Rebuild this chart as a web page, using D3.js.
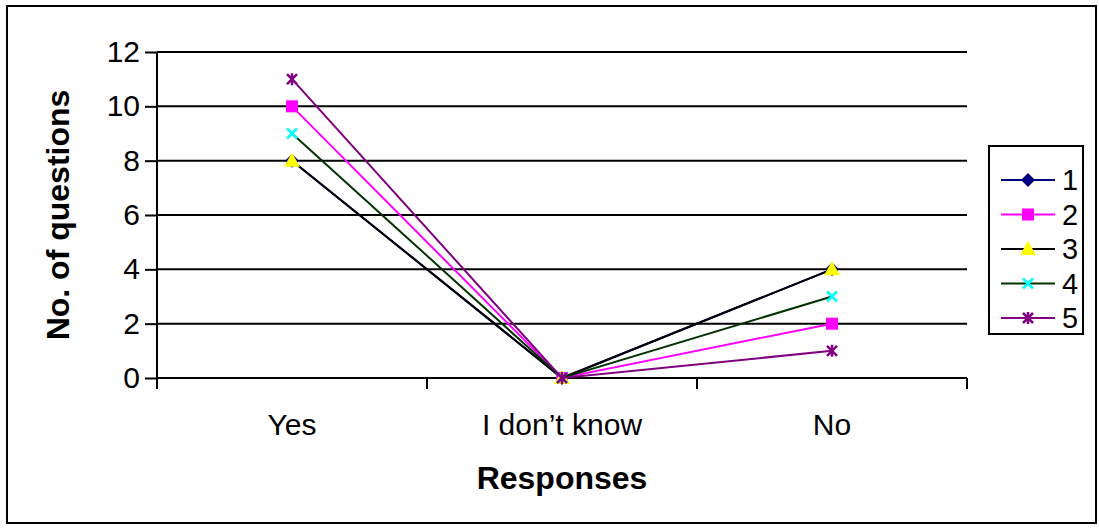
<!DOCTYPE html>
<html><head><meta charset="utf-8">
<script src="https://cdn.jsdelivr.net/npm/d3@7"></script>
<style>body{margin:0;background:#fff}svg{display:block}text{font-family:"Liberation Sans",Arial,sans-serif}</style>
</head><body><svg id="c" width="1099" height="528"></svg>
<script>
const categories = ["Yes", "I don\u2019t know", "No"];
const seriesNames = ["1", "2", "3", "4", "5"];
const s1 = [8, 0, 4];
const s2 = [10, 0, 2];
const s3 = [8, 0, 4];
const s4 = [9, 0, 3];
const s5 = [11, 0, 1];
const yTicks = [0, 2, 4, 6, 8, 10, 12];
const xTitle = "Responses";
const yTitle = "No. of questions";

const seriesValues = [s1, s2, s3, s4, s5];
const lineColors = ["#000080", "#FF00FF", "#000000", "#003300", "#800080"];
const markerColors = ["#000080", "#FF00FF", "#FFFF00", "#00FFFF", "#800080"];
const markerTypes = ["diamond", "square", "triangle", "x", "star"];

const svg = d3.select("#c");
svg.append("rect").attr("x", 7).attr("y", 6).attr("width", 1089).attr("height", 517)
  .attr("fill", "#fff").attr("stroke", "#000").attr("stroke-width", 2);

const L = 157, R = 967, T = 52, B = 378;
const x = d3.scaleBand().domain(categories).range([L, R]);
const y = d3.scaleLinear().domain([0, 12]).range([B, T]);

// gridlines
svg.append("g").selectAll("line").data(yTicks.filter(d => d > 0)).join("line")
  .attr("x1", L).attr("x2", R).attr("y1", d => y(d)).attr("y2", d => y(d))
  .attr("stroke", "#000").attr("stroke-width", 2);

// y axis
const ya = svg.append("g").attr("transform", `translate(${L},0)`)
  .call(d3.axisLeft(y).tickValues(yTicks).tickSize(12).tickPadding(5));
ya.select(".domain").attr("stroke-width", 2).attr("d", `M0,${T}V${B}`);
ya.selectAll(".tick line").attr("stroke-width", 2);
ya.selectAll(".tick text").attr("font-size", 30).attr("fill", "#000").attr("font-family", "Liberation Sans, Arial, sans-serif");

// x axis
const xa = svg.append("g").attr("transform", `translate(0,${B})`)
  .call(d3.axisBottom(x).tickSize(0).tickPadding(36));
xa.select(".domain").attr("stroke-width", 2).attr("d", `M${L},0H${R}`);
xa.selectAll(".tick text").attr("font-size", 30).attr("fill", "#000").attr("font-family", "Liberation Sans, Arial, sans-serif");
// category separator ticks
const sepPos = [...categories.map(c => x(c)), x(categories[categories.length - 1]) + x.bandwidth()];
svg.append("g").selectAll("line").data(sepPos).join("line")
  .attr("x1", d => d).attr("x2", d => d).attr("y1", B).attr("y2", B + 11)
  .attr("stroke", "#000").attr("stroke-width", 2);

// titles
svg.append("text").attr("x", 562).attr("y", 489).attr("text-anchor", "middle")
  .attr("font-size", 32).attr("font-weight", "bold").text(xTitle);
svg.append("text").attr("transform", `translate(69,${(T + B) / 2}) rotate(-90)`).attr("text-anchor", "middle")
  .attr("font-size", 32).attr("font-weight", "bold").text(yTitle);

function drawMarker(g, type, cx, cy, color) {
  if (type === "diamond") {
    g.append("path").attr("d", `M${cx},${cy - 7}L${cx + 7},${cy}L${cx},${cy + 7}L${cx - 7},${cy}Z`).attr("fill", color);
  } else if (type === "square") {
    g.append("rect").attr("x", cx - 6).attr("y", cy - 6).attr("width", 12).attr("height", 12).attr("fill", color);
  } else if (type === "triangle") {
    g.append("path").attr("d", `M${cx},${cy - 8}L${cx + 8},${cy + 6}L${cx - 8},${cy + 6}Z`).attr("fill", color);
  } else if (type === "x") {
    g.append("path").attr("d", `M${cx - 5},${cy - 5}L${cx + 5},${cy + 5}M${cx - 5},${cy + 5}L${cx + 5},${cy - 5}`)
      .attr("stroke", color).attr("stroke-width", 2.5);
  } else if (type === "star") {
    g.append("path").attr("d", `M${cx - 5},${cy - 5}L${cx + 5},${cy + 5}M${cx - 5},${cy + 5}L${cx + 5},${cy - 5}M${cx},${cy - 6}V${cy + 6}`)
      .attr("stroke", color).attr("stroke-width", 2.5);
  }
}

const cx = c => x(c) + x.bandwidth() / 2;
const line = d3.line().x((d, i) => cx(categories[i])).y(d => y(d));
seriesValues.forEach((vals, si) => {
  const g = svg.append("g");
  g.append("path").datum(vals).attr("d", line).attr("fill", "none")
    .attr("stroke", lineColors[si]).attr("stroke-width", 2);
  vals.forEach((v, i) => drawMarker(g, markerTypes[si], cx(categories[i]), y(v), markerColors[si]));
});

// legend
const lg = svg.append("g");
lg.append("rect").attr("x", 989).attr("y", 146).attr("width", 94).attr("height", 188)
  .attr("fill", "#fff").attr("stroke", "#000").attr("stroke-width", 2);
seriesNames.forEach((n, i) => {
  const ly = 180 + i * 34.5;
  lg.append("line").attr("x1", 1001).attr("x2", 1055).attr("y1", ly).attr("y2", ly)
    .attr("stroke", lineColors[i]).attr("stroke-width", 2);
  drawMarker(lg, markerTypes[i], 1028, ly, markerColors[i]);
  lg.append("text").attr("x", 1062).attr("y", ly).attr("dy", "0.36em").attr("font-size", 29).text(n);
});
</script></body></html>
